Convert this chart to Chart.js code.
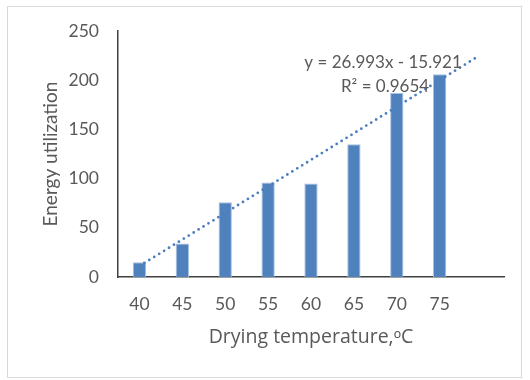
<!DOCTYPE html>
<html>
<head>
<meta charset="utf-8">
<script src="https://cdn.jsdelivr.net/npm/chart.js@4"></script>
<style>
  body { margin: 0; background: #fff; }
  canvas { display: block; }
</style>
</head>
<body>
<canvas id="energyChart" width="530" height="380"></canvas>
<script>
// values
const temperatures = ['40', '45', '50', '55', '60', '65', '70', '75', ''];
const energyUse = [15, 34, 76, 96, 95, 135, 187, 206, null];
const yTicks = [0, 50, 100, 150, 200, 250];

// linear trendline (Excel numbering: first category = 1), forecast a bit forward
const trendX = [1, 8.87];
const trendY = [11.1, 223.5];
const trendLabel = ['y = 26.993x - 15.921', 'R\u00B2 = 0.9654'];

const textColor = '#595959';
const fontFamily = 'Lato, "Open Sans", sans-serif';

// light frame round the whole chart, and the equation text
const framePlugin = {
    id: 'frame',
    beforeDraw(chart) {
        const ctx = chart.ctx;
        ctx.save();
        ctx.fillStyle = '#fff';
        ctx.fillRect(0, 0, chart.width, chart.height);
        ctx.strokeStyle = '#d9d9d9';
        ctx.lineWidth = 1;
        ctx.strokeRect(7.5, 6.5, 514, 371);
        ctx.restore();
    },
    afterDatasetsDraw(chart) {
        const ctx = chart.ctx;
        const x2 = chart.scales.x2;
        const y = chart.scales.y;
        const cx = x2.getPixelForValue(6.68);
        ctx.save();
        ctx.font = '17px ' + fontFamily;
        ctx.fillStyle = textColor;
        ctx.textAlign = 'center';
        ctx.textBaseline = 'middle';
        ctx.fillText(trendLabel[0], cx, y.getPixelForValue(218));
        ctx.fillText(trendLabel[1], cx + 2, y.getPixelForValue(194));
        ctx.restore();
    }
};

new Chart(document.getElementById('energyChart'), {
    data: {
        labels: temperatures,
        datasets: [{
            type: 'bar',
            data: energyUse,
            backgroundColor: '#4f81bd',
            borderColor: '#a7bfe0',
            borderWidth: 1,
            barPercentage: 0.31,
            categoryPercentage: 1,
            grouped: false,
            xAxisID: 'x',
            order: 2
        }, {
            type: 'line',
            data: trendX.map((v, i) => ({ x: v, y: trendY[i] })),
            borderColor: '#4a7ebf',
            borderWidth: 2.8,
            borderDash: [0, 5.8],
            borderCapStyle: 'round',
            pointRadius: 0,
            fill: false,
            xAxisID: 'x2',
            order: 1
        }]
    },
    options: {
        responsive: false,
        animation: false,
        devicePixelRatio: 1,
        layout: { padding: { top: 31, right: 26, left: 0, bottom: 0 } },
        plugins: { legend: { display: false }, tooltip: { enabled: false } },
        scales: {
            x: {
                type: 'category',
                offset: true,
                grid: { display: false, drawTicks: false },
                border: { color: '#404040', width: 1.5 },
                ticks: { color: textColor, font: { family: fontFamily, size: 17.5 }, padding: 17, maxRotation: 0 },
                title: {
                    display: true,
                    text: 'Drying temperature,\u1D52C',
                    color: textColor,
                    font: { family: '"Open Sans", sans-serif', size: 19.5 },
                    padding: { top: 0, bottom: 31 }
                },
                afterFit(scale) { scale.height = 103; }
            },
            x2: {
                type: 'linear',
                display: false,
                min: 0.5,
                max: 9.5
            },
            y: {
                min: 0,
                max: 250,
                grid: { display: false, drawTicks: false },
                border: { color: '#404040', width: 1.5 },
                afterBuildTicks(scale) { scale.ticks = yTicks.map(v => ({ value: v })); },
                ticks: { color: textColor, font: { family: fontFamily, size: 17.5 }, padding: 19 },
                title: {
                    display: true,
                    text: 'Energy utilization',
                    color: textColor,
                    font: { family: fontFamily, size: 19 },
                    padding: { top: 39, bottom: 0 }
                },
                afterFit(scale) { scale.width = 118; }
            }
        }
    },
    plugins: [framePlugin]
});
</script>
</body>
</html>
